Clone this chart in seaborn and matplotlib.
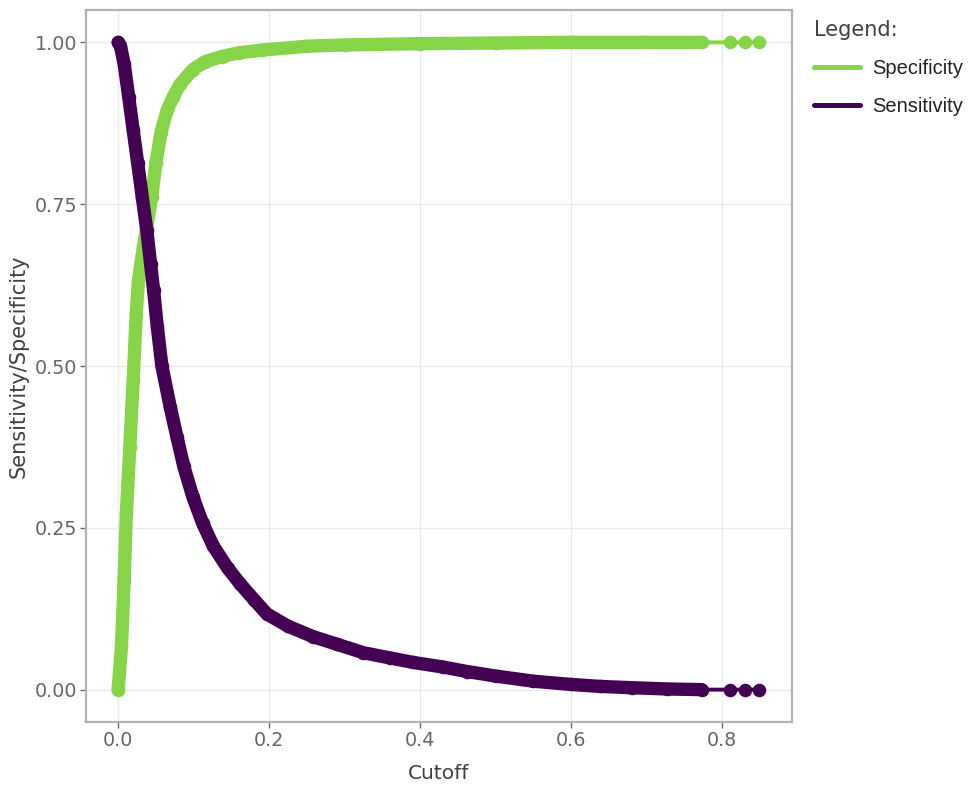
import matplotlib
matplotlib.use("Agg")
import matplotlib.pyplot as plt
import pandas as pd
import seaborn as sns
from matplotlib.lines import Line2D

# ---- data ----
spec_cutoff = [0.000, 0.0045, 0.008, 0.011, 0.0155, 0.020, 0.024, 0.027, 0.0335,
               0.0445, 0.050, 0.057, 0.065, 0.073, 0.082, 0.099, 0.115, 0.137,
               0.160, 0.190, 0.250, 0.300, 0.400, 0.500, 0.600, 0.700, 0.773,
               0.811, 0.830, 0.849]
specificity = [0.000, 0.067, 0.170, 0.273, 0.375, 0.478, 0.581, 0.633, 0.684,
               0.761, 0.813, 0.862, 0.895, 0.916, 0.935, 0.958, 0.970, 0.978,
               0.984, 0.988, 0.994, 0.996, 0.998, 0.999, 1.000, 1.000, 1.000,
               1.000, 1.000, 1.000]

sens_cutoff = [0.000, 0.003, 0.008, 0.014, 0.020, 0.026, 0.032, 0.038, 0.043,
               0.047, 0.052, 0.058, 0.069, 0.078, 0.087, 0.099, 0.112, 0.126,
               0.145, 0.162, 0.180, 0.197, 0.225, 0.258, 0.290, 0.325, 0.360,
               0.391, 0.430, 0.462, 0.500, 0.550, 0.600, 0.638, 0.680, 0.727,
               0.773, 0.811, 0.830, 0.849]
sensitivity = [1.000, 0.995, 0.967, 0.916, 0.864, 0.813, 0.761, 0.710, 0.658,
               0.617, 0.560, 0.500, 0.437, 0.390, 0.345, 0.298, 0.257, 0.222,
               0.188, 0.163, 0.139, 0.117, 0.098, 0.082, 0.070, 0.057, 0.049,
               0.042, 0.035, 0.028, 0.021, 0.013, 0.008, 0.005, 0.003, 0.001,
               0.000, 0.000, 0.000, 0.000]

series_labels = ["Specificity", "Sensitivity"]
series_colors = ["#86D549", "#440154"]
x_ticks = [0.0, 0.2, 0.4, 0.6, 0.8]
x_tick_labels = ["0.0", "0.2", "0.4", "0.6", "0.8"]
y_ticks = [0.00, 0.25, 0.50, 0.75, 1.00]
y_tick_labels = ["0.00", "0.25", "0.50", "0.75", "1.00"]
dense_limit = 0.7735  # where the dense run of points ends

df = pd.concat([
    pd.DataFrame({"Cutoff": spec_cutoff, "Value": specificity, "Measure": "Specificity"}),
    pd.DataFrame({"Cutoff": sens_cutoff, "Value": sensitivity, "Measure": "Sensitivity"}),
], ignore_index=True)

sns.set_theme(style="white")
plt.rcParams["font.family"] = ["DejaVu Sans"]

W, H = 968, 787
fig = plt.figure(figsize=(W / 100, H / 100), dpi=100)
ax = fig.add_axes([86 / W, 1 - 722 / H, (792 - 86) / W, (722 - 10) / H])

palette = dict(zip(series_labels, series_colors))
for label in series_labels:
    sub = df[df["Measure"] == label]
    col = palette[label]
    sns.lineplot(data=sub, x="Cutoff", y="Value", color=col, linewidth=2.8,
                 sort=False, estimator=None, ax=ax, legend=False)
    dense = sub[sub["Cutoff"] <= dense_limit]
    sns.lineplot(data=dense, x="Cutoff", y="Value", color=col, linewidth=9.6,
                 sort=False, estimator=None, ax=ax, legend=False,
                 solid_capstyle="round", solid_joinstyle="round")
    sns.scatterplot(data=sub, x="Cutoff", y="Value", color=col, s=95,
                    linewidth=0, ax=ax, legend=False)

ax.set_xlim(-0.0425, 0.8925)
ax.set_ylim(-0.05, 1.05)
ax.set_xticks(x_ticks)
ax.set_xticklabels(x_tick_labels)
ax.set_yticks(y_ticks)
ax.set_yticklabels(y_tick_labels)
ax.grid(True, color="#EBEBEB", linewidth=1.0)
ax.set_axisbelow(True)
for sp in ax.spines.values():
    sp.set_visible(True)
    sp.set_color("#B3B3B3")
    sp.set_linewidth(1.6)
ax.tick_params(axis="both", which="major", length=4, width=1.0, color="#666666",
               labelsize=13.8, labelcolor="#666666", pad=2.5, direction="out",
               bottom=True, left=True)
ax.set_xlabel("Cutoff", fontsize=14.5, color="#404040", labelpad=10)
ax.set_ylabel("Sensitivity/Specificity", fontsize=15, color="#404040", labelpad=4)

handles = [Line2D([0], [0], color=c, linewidth=3.6) for c in series_colors]
leg = fig.legend(handles, series_labels, loc="upper left",
                 bbox_to_anchor=(800 / W, 1 - 6 / H), frameon=False,
                 prop={"family": "Liberation Sans", "size": 14.5},
                 title="Legend:", title_fontproperties={"family": "DejaVu Sans", "size": 15},
                 alignment="left", handlelength=2.3, handletextpad=0.6,
                 labelspacing=0.95, borderpad=0.2)
leg.get_title().set_color("#404040")
for t in leg.get_texts():
    t.set_color("#222222")

fig.savefig("out.png", dpi=100)
